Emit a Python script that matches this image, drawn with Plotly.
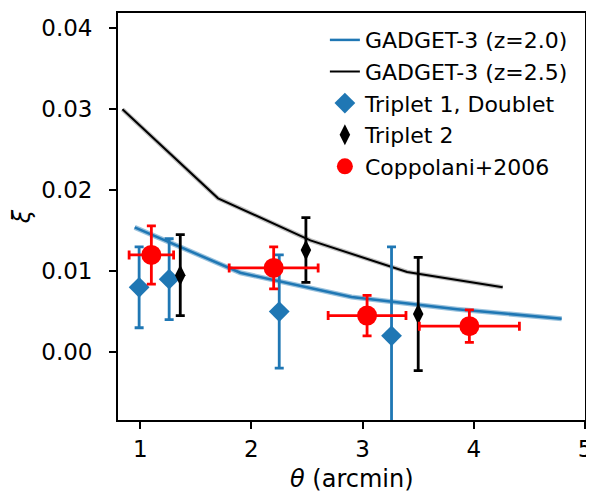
import plotly.graph_objects as go

# === simulation curves ===
theta_z20 = [0.95, 1.90, 2.90, 3.85, 4.79]
xi_z20 = [0.0154, 0.0098, 0.0068, 0.0053, 0.0041]

theta_z25 = [0.84, 1.70, 2.53, 3.40, 4.26]
xi_z25 = [0.0300, 0.0190, 0.0138, 0.0099, 0.0080]

# === measurements ===
theta_t1 = [0.99, 1.26, 2.25, 3.26]
xi_t1 = [0.0080, 0.0090, 0.0050, 0.0020]
err_t1 = [0.0050, 0.0050, 0.0070, 0.0110]

theta_t2 = [1.36, 2.49, 3.50]
xi_t2 = [0.0095, 0.0126, 0.0047]
err_t2 = [0.0050, 0.0040, 0.0070]

theta_cop = [1.10, 2.20, 3.04, 3.96]
xi_cop = [0.0120, 0.0104, 0.0045, 0.0032]
xerr_cop = [0.20, 0.40, 0.35, 0.45]
yerr_cop = [0.0036, 0.0026, 0.0025, 0.0020]

x_ticks = [1, 2, 3, 4, 5]
y_ticks = [0.00, 0.01, 0.02, 0.03, 0.04]

BLUE = "#1f77b4"
RED = "#ff0000"

fig = go.Figure()

# halos under the lines
fig.add_trace(go.Scatter(x=theta_z25, y=xi_z25, mode="lines",
                         line=dict(color="rgba(0,0,0,0.25)", width=4.5),
                         showlegend=False, hoverinfo="skip"))
fig.add_trace(go.Scatter(x=theta_z20, y=xi_z20, mode="lines",
                         line=dict(color="rgba(31,119,180,0.45)", width=5),
                         showlegend=False, hoverinfo="skip"))

fig.add_trace(go.Scatter(x=theta_z20, y=xi_z20, mode="lines", name="GADGET-3 (z=2.0)",
                         legendgroup="a", line=dict(color=BLUE, width=2.5)))
fig.add_trace(go.Scatter(x=theta_z25, y=xi_z25, mode="lines", name="GADGET-3 (z=2.5)",
                         legendgroup="b", line=dict(color="black", width=2)))

fig.add_trace(go.Scatter(
    x=theta_t1, y=xi_t1, mode="markers", name="Triplet 1, Doublet", legendgroup="c",
    marker=dict(symbol="diamond", size=16, color=BLUE),
    error_y=dict(type="data", array=err_t1, color=BLUE, thickness=2.8, width=4.5),
))
fig.add_trace(go.Scatter(
    x=theta_t2, y=xi_t2, mode="markers", name="Triplet 2", legendgroup="d",
    marker=dict(symbol="diamond-tall", size=15, color="black"),
    error_y=dict(type="data", array=err_t2, color="black", thickness=2.8, width=4.5),
))
fig.add_trace(go.Scatter(
    x=theta_cop, y=xi_cop, mode="markers", name="Coppolani+2006", legendgroup="e",
    marker=dict(symbol="circle", size=20, color=RED),
    error_x=dict(type="data", array=xerr_cop, color=RED, thickness=2.8, width=4.5),
    error_y=dict(type="data", array=yerr_cop, color=RED, thickness=2.8, width=4.5),
))

axis_common = dict(
    showline=True, linecolor="black", linewidth=1.8, mirror=True,
    ticks="outside", ticklen=7, tickwidth=1.5, tickcolor="black",
    showgrid=False, zeroline=False, automargin=False,
    tickfont=dict(size=23, color="black"),
)

# the page adds 8px body margin, so the figure is sized/offset to compensate
fig.update_layout(
    width=586, height=484,
    margin=dict(l=110, r=9, t=5, b=72),
    plot_bgcolor="white", paper_bgcolor="white",
    font=dict(family="DejaVu Sans", size=22, color="black"),
    xaxis=dict(range=[0.8, 5.0], tickvals=x_ticks, ticktext=[str(t) for t in x_ticks],
               **axis_common),
    yaxis=dict(range=[-0.0084, 0.0419], tickvals=y_ticks,
               ticktext=["%.2f" % t for t in y_ticks], ticklabelstandoff=12,
               title=dict(text="<i>ξ</i>", standoff=8, font=dict(size=24)),
               **axis_common),
    legend=dict(x=0.443, xanchor="left", y=0.985, yanchor="top",
                bgcolor="rgba(255,255,255,0)", font=dict(size=22),
                tracegroupgap=0),
    showlegend=True,
)

# x title as annotation so it can sit lower than plotly's clamp allows
fig.add_annotation(text="<i>θ</i> (arcmin)", xref="paper", yref="paper",
                   x=0.5, y=0, yanchor="middle", yshift=-59, showarrow=False,
                   font=dict(size=24, color="black"))

fig.write_html("out.html")
